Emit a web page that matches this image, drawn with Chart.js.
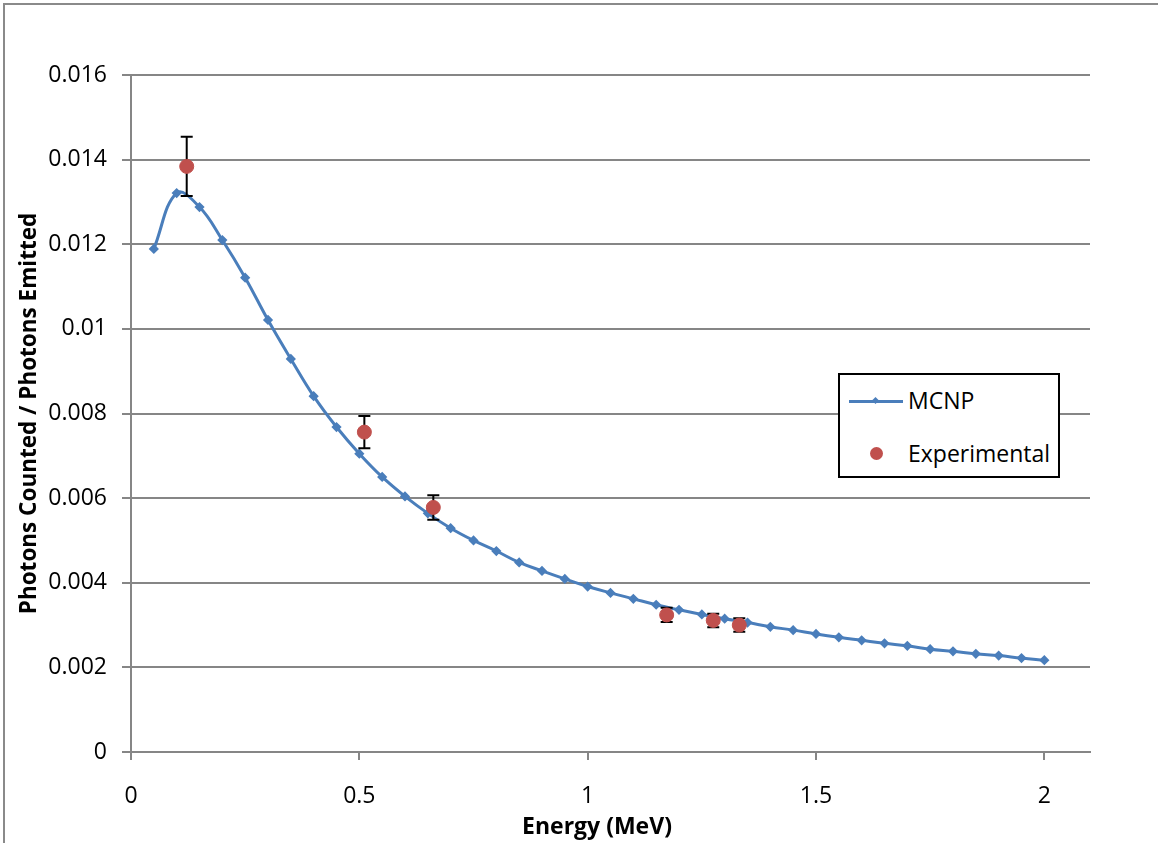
<!DOCTYPE html>
<html>
<head>
<meta charset="utf-8">
<script src="https://cdn.jsdelivr.net/npm/chart.js@4"></script>
<style>
  body { margin: 0; background: #fff; }
  #wrap { position: relative; width: 1158px; height: 843px; overflow: hidden; }
  #frame { position: absolute; left: 3px; top: 3px; right: -10px; bottom: -10px; border-left: 2px solid #8a8a8a; border-top: 2px solid #8a8a8a; }
  #legend { position: absolute; left: 838px; top: 373px; width: 218px; height: 101px; border: 2px solid #000; background: #fff;
            font-family: "Open Sans", sans-serif; font-size: 23px; color: #000; }
  .item { position: absolute; left: 68px; line-height: 26px; }
  .line { position: absolute; left: 9px; top: 25px; width: 54px; height: 3px; background: #4a7ebb; }
  .diamond { position: absolute; left: 33px; top: 23px; width: 5px; height: 5px; background: #4a7ebb; transform: rotate(45deg); }
  .dot { position: absolute; left: 30px; top: 72px; width: 13px; height: 13px; border-radius: 50%; background: #c0504d; }
</style>
</head>
<body>
<div id="wrap">
  <canvas id="chart" width="1158" height="843"></canvas>
  <div id="frame"></div>
  <div id="legend">
    <div class="line"></div><div class="diamond"></div>
    <div class="item" style="top:12px">MCNP</div>
    <div class="dot"></div>
    <div class="item" style="top:65px">Experimental</div>
  </div>
</div>
<script>
// MCNP simulated efficiency
const mcnpEnergy = [0.05, 0.1, 0.15, 0.2, 0.25, 0.3, 0.35, 0.4, 0.45, 0.5,
  0.55, 0.6, 0.65, 0.7, 0.75, 0.8, 0.85, 0.9, 0.95, 1.0,
  1.05, 1.1, 1.15, 1.2, 1.25, 1.3, 1.35, 1.4, 1.45, 1.5,
  1.55, 1.6, 1.65, 1.7, 1.75, 1.8, 1.85, 1.9, 1.95, 2.0];
const mcnpValue = [0.01189, 0.01321, 0.01288, 0.01210, 0.01121, 0.01021, 0.00929, 0.00841, 0.00768, 0.00705,
  0.00650, 0.00604, 0.00564, 0.00529, 0.00500, 0.00475, 0.00448, 0.00428, 0.00409, 0.00391,
  0.00376, 0.00362, 0.00348, 0.00336, 0.00325, 0.00315, 0.00306, 0.00296, 0.00288, 0.00279,
  0.00271, 0.00264, 0.00257, 0.00251, 0.00243, 0.00238, 0.00232, 0.00228, 0.00222, 0.00217];

// measured points with errors
const expEnergy = [0.122, 0.511, 0.662, 1.173, 1.275, 1.332];
const expValue = [0.01384, 0.00756, 0.00578, 0.00324, 0.00311, 0.00300];
const expError = [0.00070, 0.00038, 0.00029, 0.00017, 0.00016, 0.00016];

const xTicks = [0, 0.5, 1, 1.5, 2];
const xTitle = 'Energy (MeV)';

const FONT = '"Open Sans", sans-serif';
const GRID = '#868686';

const errorBars = {
  id: 'errorBars',
  beforeDatasetDraw(chart, args) {
    if (args.index !== 0) return;
    const { ctx, scales: { x, y } } = chart;
    ctx.save();
    ctx.strokeStyle = '#000';
    ctx.lineWidth = 2;
    expEnergy.forEach((e, i) => {
      const px = x.getPixelForValue(e);
      const top = y.getPixelForValue(expValue[i] + expError[i]);
      const bot = y.getPixelForValue(expValue[i] - expError[i]);
      ctx.beginPath();
      ctx.moveTo(px, top); ctx.lineTo(px, bot);
      ctx.moveTo(px - 6, top); ctx.lineTo(px + 6, top);
      ctx.moveTo(px - 6, bot); ctx.lineTo(px + 6, bot);
      ctx.stroke();
    });
    ctx.restore();
  }
};

// x title sits a bit left of the plot centre, like the original
const xTitlePlugin = {
  id: 'xTitle',
  afterDraw(chart) {
    const { ctx } = chart;
    ctx.save();
    ctx.font = 'bold 23px ' + FONT;
    ctx.fillStyle = '#000';
    ctx.textAlign = 'center';
    ctx.textBaseline = 'middle';
    ctx.fillText(xTitle, 597, 827);
    ctx.restore();
  }
};

new Chart(document.getElementById('chart'), {
  type: 'scatter',
  data: {
    datasets: [
      {
        label: 'Experimental',
        data: expEnergy.map((e, i) => ({ x: e, y: expValue[i] })),
        backgroundColor: '#c0504d',
        borderColor: '#c0504d',
        pointRadius: 7,
        showLine: false
      },
      {
        label: 'MCNP',
        data: mcnpEnergy.map((e, i) => ({ x: e, y: mcnpValue[i] })),
        showLine: true,
        tension: 0.4,
        borderColor: '#4a7ebb',
        backgroundColor: '#4a7ebb',
        borderWidth: 3,
        pointStyle: 'rectRot',
        pointRadius: 3
      }
    ]
  },
  options: {
    responsive: false,
    animation: false,
    layout: { padding: { left: 0, right: 68, top: 75, bottom: 0 } },
    plugins: { legend: { display: false }, tooltip: { enabled: false } },
    scales: {
      x: {
        type: 'linear',
        min: 0, max: 2.1,
        afterBuildTicks: s => { s.ticks = xTicks.map(v => ({ value: v })); },
        afterFit: s => { s.height = 91; },
        grid: { drawOnChartArea: false, color: GRID, lineWidth: 2, tickLength: 8 },
        border: { color: GRID, width: 2 },
        ticks: { color: '#000', font: { family: FONT, size: 23 }, padding: 23, maxRotation: 0,
                 callback: v => String(v) }
      },
      y: {
        min: 0, max: 0.016,
        ticks: { stepSize: 0.002, color: '#000', font: { family: FONT, size: 23 }, padding: 15,
                 callback: v => String(parseFloat(v.toFixed(3))) },
        afterFit: s => { s.width = 131; },
        grid: { color: GRID, lineWidth: 2, tickLength: 9 },
        border: { color: GRID, width: 2 },
        title: { display: true, text: 'Photons Counted / Photons Emitted', color: '#000',
                 font: { family: FONT, size: 22.5, weight: 'bold' }, padding: { top: 16, bottom: 0 } }
      }
    }
  },
  plugins: [errorBars, xTitlePlugin]
});
</script>
</body>
</html>
